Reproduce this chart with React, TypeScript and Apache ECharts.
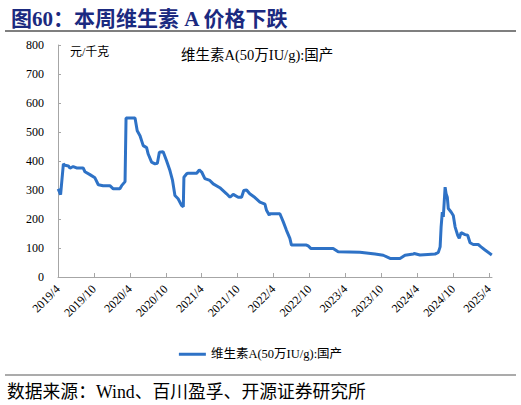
import React, { useEffect, useRef } from "react";
import * as echarts from "echarts";

const seriesName = "维生素A(50万IU/g):国产";
const titleText = "图60：本周维生素 A 价格下跌";
const sourceText = "数据来源：Wind、百川盈孚、开源证券研究所";
const unitText = "元/千克";

const dates = [
  "2019-04-02", "2019-04-14", "2019-04-28", "2019-05-06", "2019-05-23", "2019-06-01", "2019-06-17", "2019-07-04",
  "2019-08-07", "2019-08-16", "2019-09-11", "2019-10-06", "2019-10-23", "2019-11-17", "2019-12-21", "2020-01-08",
  "2020-02-11", "2020-02-20", "2020-03-07", "2020-03-12", "2020-04-27", "2020-05-08", "2020-05-22", "2020-06-08",
  "2020-06-25", "2020-07-03", "2020-07-20", "2020-08-07", "2020-08-19", "2020-08-29", "2020-09-18", "2020-10-05",
  "2020-10-22", "2020-11-05", "2020-11-17", "2020-12-03", "2020-12-20", "2020-12-29", "2021-01-02", "2021-01-16",
  "2021-01-24", "2021-03-06", "2021-03-19", "2021-03-31", "2021-04-17", "2021-05-12", "2021-05-29", "2021-07-02",
  "2021-08-06", "2021-08-23", "2021-09-09", "2021-10-04", "2021-10-21", "2021-11-02", "2021-11-16", "2021-12-02",
  "2021-12-28", "2022-01-23", "2022-02-18", "2022-02-26", "2022-03-10", "2022-03-13", "2022-05-03", "2022-05-20",
  "2022-06-06", "2022-06-23", "2022-07-01", "2022-09-16", "2022-09-25", "2022-10-09", "2023-01-30", "2023-02-25",
  "2023-06-14", "2023-08-30", "2023-10-11", "2023-11-15", "2024-01-05", "2024-01-30", "2024-03-12", "2024-03-16",
  "2024-04-15", "2024-05-25", "2024-06-30", "2024-07-17", "2024-07-26", "2024-07-31", "2024-08-07", "2024-08-12",
  "2024-08-21", "2024-08-26", "2024-09-02", "2024-09-07", "2024-09-21", "2024-10-02", "2024-10-11", "2024-10-24",
  "2024-11-02", "2024-11-11", "2024-12-01", "2024-12-14", "2024-12-26", "2025-01-12", "2025-02-07", "2025-02-21",
  "2025-03-11", "2025-04-15",
];

const prices = [
  304, 284, 390, 385, 383, 375, 381, 376,
  376, 363, 353, 342, 318, 315, 315, 304,
  304, 315, 329, 548, 548, 504, 487, 453,
  446, 424, 396, 390, 392, 430, 432, 401,
  367, 333, 281, 270, 247, 242, 344, 356,
  358, 358, 369, 362, 339, 333, 321, 308,
  287, 275, 285, 275, 275, 298, 300, 287,
  274, 258, 251, 230, 213, 218, 218, 190,
  161, 133, 110, 110, 107, 98, 98, 87,
  85, 79, 75, 64, 64, 75, 79, 81,
  76, 78, 79, 85, 104, 173, 224, 207,
  310, 287, 275, 236, 224, 212, 173, 144,
  133, 153, 146, 144, 118, 112, 112, 104,
  93, 76,
];

const xTickMonths = [0, 6, 12, 18, 24, 30, 36, 42, 48, 54, 60, 66, 72];
const yTicks = { min: 0, max: 800, interval: 100 };

// months elapsed since 2019-04-01
function monthIndex(d: string): number {
  const [y, m, day] = d.split("-").map(Number);
  return (y - 2019) * 12 + (m - 4) + (day - 1) / 30;
}

function monthLabel(v: number): string {
  const r = Math.round(v);
  if (Math.abs(v - r) > 1e-6 || r % 6 !== 0) return "";
  const total = 3 + r;
  const year = 2019 + Math.floor(total / 12);
  const month = (total % 12) + 1;
  return `${year}/${month}`;
}

const serif = "'Liberation Serif', 'Times New Roman', 'Noto Sans CJK SC', serif";

export default function App() {
  const ref = useRef<HTMLDivElement>(null);
  useEffect(() => {
    if (!ref.current) return;
    const chart = echarts.init(ref.current, undefined, { renderer: "svg" });
    const data = dates.map((d, i) => [monthIndex(d), prices[i]]);
    chart.setOption({
      animation: false,
      backgroundColor: "#ffffff",
      title: {
        text: titleText,
        left: 6,
        top: 3,
        textStyle: {
          fontSize: 21,
          fontWeight: "bold",
          color: "#1B2A80",
          fontFamily: serif,
        },
      },
      grid: { left: 58, right: 29, top: 45, bottom: 128, containLabel: false },
      legend: {
        data: [seriesName],
        left: "center",
        top: 343,
        itemWidth: 27,
        itemHeight: 14,
        icon: "path://M0,5.5 L27,5.5 L27,8.5 L0,8.5 Z",
        textStyle: { fontSize: 12.5, color: "#000", fontFamily: serif },
      },
      xAxis: {
        type: "value",
        min: 0,
        max: 72.5,
        interval: 6,
        axisLine: { show: true, lineStyle: { color: "#A6A6A6", width: 1 } },
        axisTick: {
          show: true,
          inside: true,
          length: 4,
          lineStyle: { color: "#A6A6A6" },
          customValues: xTickMonths,
        },
        axisLabel: {
          rotate: 45,
          margin: 10,
          fontSize: 12,
          color: "#000",
          fontFamily: serif,
          customValues: xTickMonths,
          formatter: (v: number) => monthLabel(v),
        },
        splitLine: { show: false },
      },
      yAxis: {
        type: "value",
        min: yTicks.min,
        max: yTicks.max,
        interval: yTicks.interval,
        axisLine: { show: true, lineStyle: { color: "#A6A6A6", width: 1 } },
        axisTick: { show: true, inside: true, length: 3, lineStyle: { color: "#A6A6A6" } },
        axisLabel: { fontSize: 12, color: "#000", fontFamily: serif, margin: 14 },
        splitLine: { show: false },
      },
      series: [
        {
          name: seriesName,
          type: "line",
          data,
          symbol: "none",
          lineStyle: { color: "#2E72C6", width: 3 },
          itemStyle: { color: "#2E72C6" },
        },
      ],
      graphic: [
        {
          type: "line",
          shape: { x1: 5, y1: 31, x2: 516, y2: 31 },
          style: { stroke: "#7F7F7F", lineWidth: 2 },
        },
        {
          type: "line",
          shape: { x1: 5, y1: 375, x2: 516, y2: 375 },
          style: { stroke: "#595959", lineWidth: 1.2 },
        },
        {
          type: "text",
          x: 70,
          y: 52,
          style: {
            text: unitText,
            fontSize: 12,
            fill: "#000",
            fontFamily: serif,
            verticalAlign: "middle",
          },
        },
        {
          type: "text",
          x: 181,
          y: 55,
          style: {
            text: seriesName,
            fontSize: 14.5,
            fill: "#000",
            fontFamily: serif,
            verticalAlign: "middle",
          },
        },
        {
          type: "text",
          x: 7,
          y: 392,
          style: {
            text: sourceText,
            fontSize: 17.8,
            fill: "#000",
            fontFamily: serif,
            verticalAlign: "middle",
          },
        },
      ],
    });
    return () => chart.dispose();
  }, []);
  return (
    <div
      ref={ref}
      style={{ position: "fixed", left: 0, top: 0, width: 521, height: 405, background: "#fff" }}
    />
  );
}
